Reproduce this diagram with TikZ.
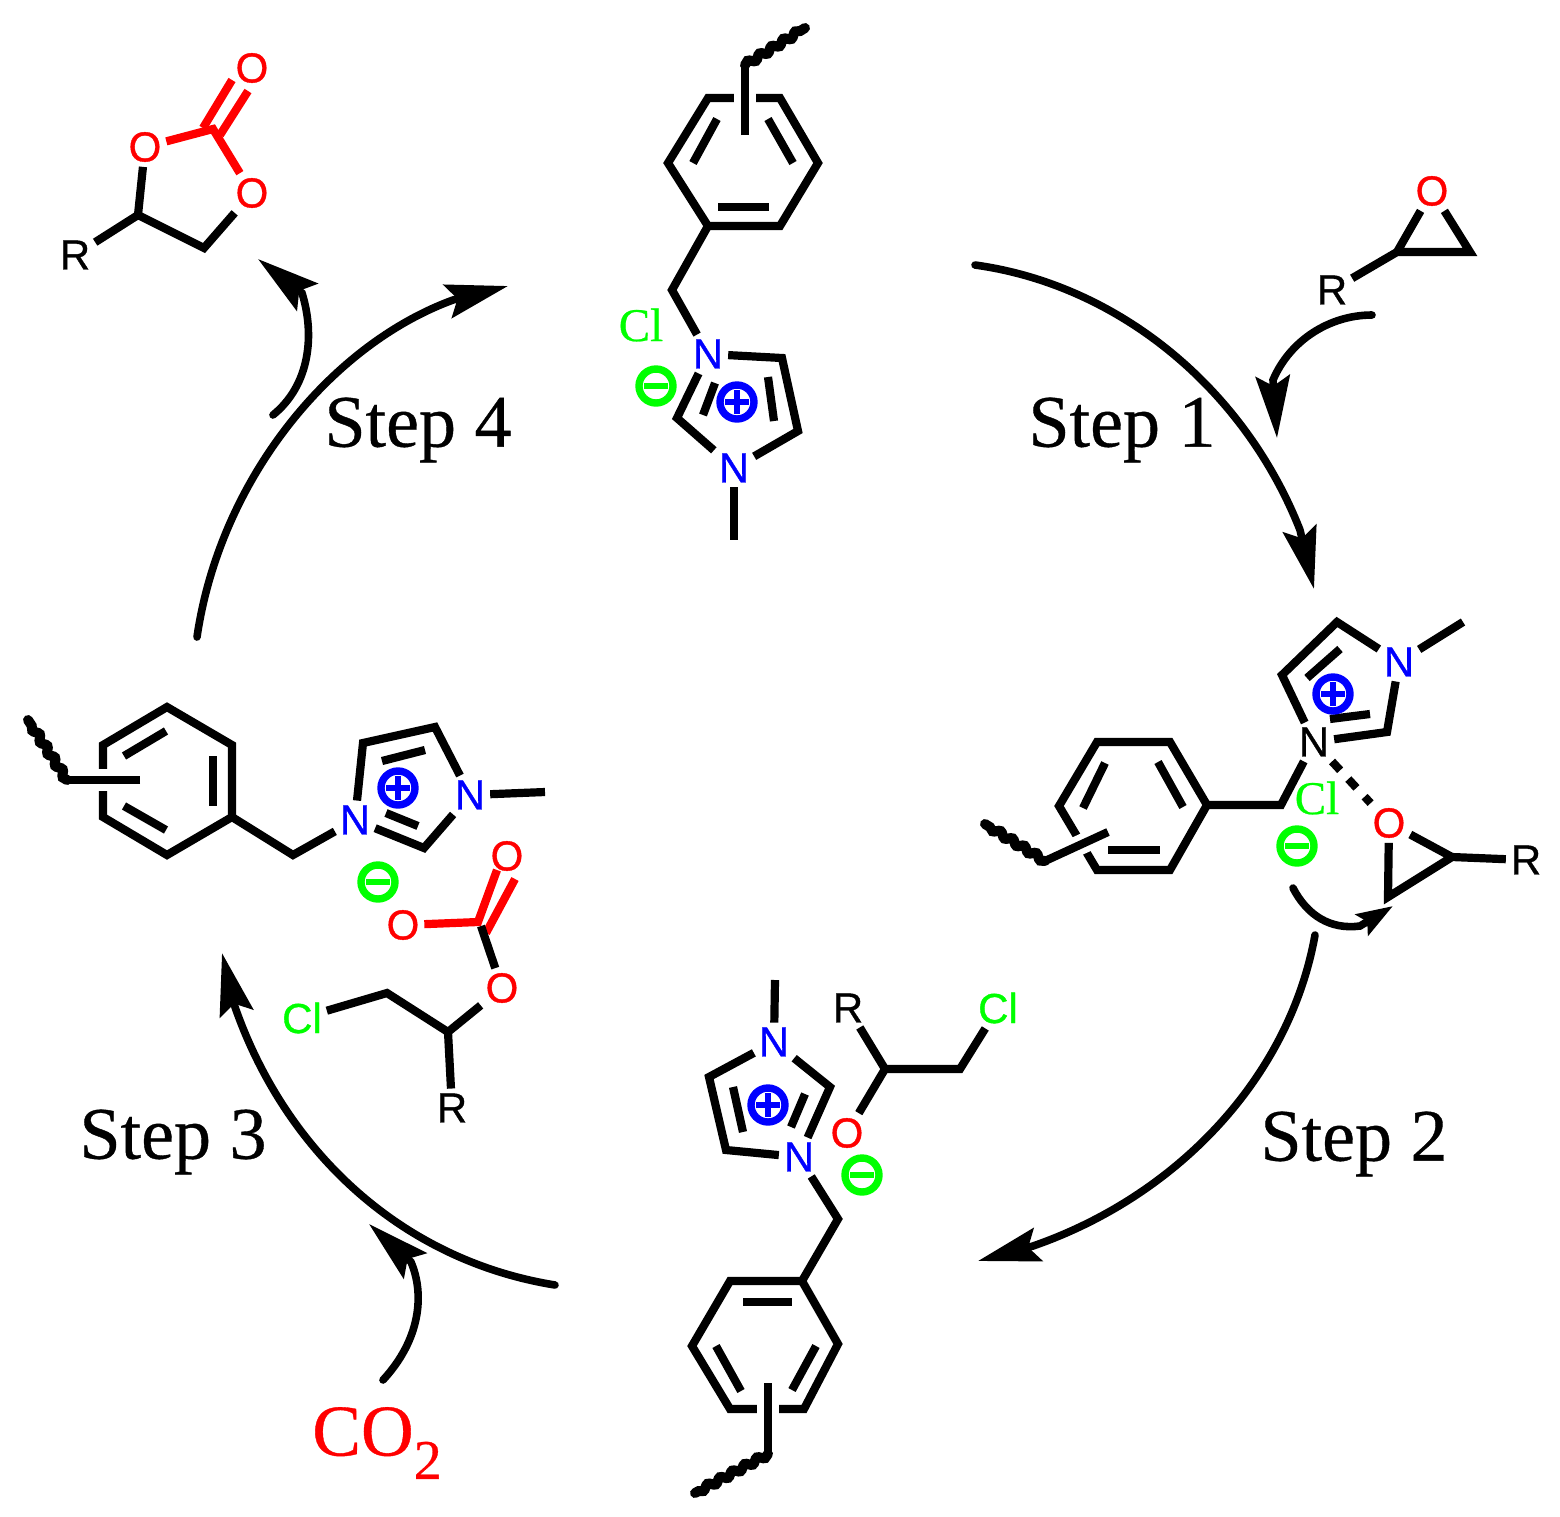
\documentclass[tikz,border=0pt]{standalone}
\usepackage{fontspec}
\setmainfont[RawFeature={embolden=0.5}]{Liberation Serif}
\newfontfamily\atomfont[RawFeature={embolden=0.9}]{Liberation Sans}
\usetikzlibrary{arrows.meta,decorations.pathmorphing}
\definecolor{rd}{RGB}{255,0,0}
\definecolor{gn}{RGB}{0,255,0}
\definecolor{bl}{RGB}{0,0,255}
\tikzset{
  bond/.style={line width=4.1pt,line cap=butt,line join=miter,draw=black},
  redbond/.style={bond,draw=rd},
  halo/.style={preaction={draw=white,line width=11pt}},
  wavy/.style={line width=5pt,decorate,decoration={snake,segment length=7pt,amplitude=1.1pt},line cap=round},
  atom/.style={inner sep=2.5pt,outer sep=0pt,font=\atomfont\fontsize{21}{21}\selectfont},
  NN/.style={atom,text=bl},
  OO/.style={atom,text=rd},
  RR/.style={atom,text=black},
  CLsans/.style={atom,text=gn},
  CLserif/.style={inner sep=2pt,text=gn,font=\fontsize{23.5}{23.5}\selectfont},
  steplabel/.style={inner sep=0pt,font=\fontsize{37}{37}\selectfont},
  chg/.style={circle,inner sep=0pt,minimum size=17pt,line width=3.7pt,draw=#1},
  chgbar/.style={line width=3pt,draw=#1},
  cycle/.style={line width=3.8pt,line cap=round,-{Stealth[length=31pt,width=17pt,inset=5pt]}},
  tiny/.style={line width=3.8pt,line cap=round,-{Stealth[length=18pt,width=12pt,inset=3pt]}},
}
\newcommand{\chgplus}[2]{%
  \node[chg=bl] (#1) at (#2) {};
  \draw[chgbar=bl] ([xshift=-6pt]#1.center) -- ([xshift=6pt]#1.center);
  \draw[chgbar=bl] ([yshift=-6pt]#1.center) -- ([yshift=6pt]#1.center);}
\newcommand{\chgminus}[2]{%
  \node[chg=gn] (#1) at (#2) {};
  \draw[chgbar=gn] ([xshift=-6pt]#1.center) -- ([xshift=6pt]#1.center);}
\begin{document}
\begin{tikzpicture}[x=0.5pt,y=-0.5pt]
\useasboundingbox (0,0) rectangle (1560,1517);

% ===== top molecule =====
\coordinate (a1) at (708,226);\coordinate (a2) at (668,163);\coordinate (a3) at (708,98);
\coordinate (a4) at (780,98);\coordinate (a5) at (818,163);\coordinate (a6) at (780,226);
\draw[bond] (a1)--(a2)--(a3)--(a4)--(a5)--(a6)--cycle;
\coordinate (as1) at (745,135);\coordinate (as2) at (745,65);\coordinate (aw) at (805,28);
\draw[bond,halo] (as1)--(as2);
\draw[wavy] (as2)--(aw);
\coordinate (ai1) at (693,163);\coordinate (ai2) at (717,119);\draw[bond] (ai1)--(ai2);
\coordinate (ai3) at (768,119);\coordinate (ai4) at (793,163);\draw[bond] (ai3)--(ai4);
\coordinate (ai5) at (718,207);\coordinate (ai6) at (769,207);\draw[bond] (ai5)--(ai6);
\node[NN] (an1) at (708,354) {N};
\node[NN] (an2) at (734,468) {N};
\coordinate (ach) at (672,290);
\coordinate (ac1) at (782,358);\coordinate (ac2) at (798,431);\coordinate (ac3) at (677,418);
\coordinate (ame) at (734,540);
\draw[bond] (a1)--(ach)--(an1);
\draw[bond] (an1)--(ac1)--(ac2)--(an2);
\draw[bond] (an2)--(ac3)--(an1);
\draw[bond] (an2)--(ame);
\coordinate (ad1) at (768,377);\coordinate (ad2) at (774,421);\draw[bond] (ad1)--(ad2);
\coordinate (ad3) at (715,383);\coordinate (ad4) at (703,415);\draw[bond] (ad3)--(ad4);
\chgplus{ap}{737,402}
\chgminus{am}{656,386}
\node[CLserif] (acl) at (641,325) {Cl};

% ===== epoxide top right =====
\node[OO] (eo) at (1432,191) {O};
\node[RR] (er) at (1332,290) {R};
\coordinate (ec1) at (1397,252);\coordinate (ec2) at (1470,252);
\draw[bond] (er)--(ec1)--(ec2)--(eo)--(ec1);

% ===== right molecule =====
\coordinate (b1) at (1207,805);\coordinate (b2) at (1170,742);\coordinate (b3) at (1097,742);
\coordinate (b4) at (1059,806);\coordinate (b5) at (1097,870);\coordinate (b6) at (1170,870);
\draw[bond] (b1)--(b2)--(b3)--(b4)--(b5)--(b6)--cycle;
\coordinate (bs1) at (1108,832);\coordinate (bs2) at (1045,861);\coordinate (bw) at (985,824);
\draw[bond,preaction={draw=white,line width=10pt}] (bs1)--(bs2);
\draw[wavy] (bs2)--(bw);
\coordinate (bi1) at (1105,763);\coordinate (bi2) at (1083,808);\draw[bond] (bi1)--(bi2);
\coordinate (bi3) at (1158,762);\coordinate (bi4) at (1183,807);\draw[bond] (bi3)--(bi4);
\coordinate (bi5) at (1108,850);\coordinate (bi6) at (1160,850);\draw[bond] (bi5)--(bi6);
\node[RR] (bn1) at (1314,742) {N};
\node[NN] (bn2) at (1399,662) {N};
\coordinate (bch) at (1281,805);
\coordinate (bc1) at (1282,675);\coordinate (bc2) at (1337,622);\coordinate (bc3) at (1387,732);
\coordinate (bme) at (1463,622);
\draw[bond] (b1)--(bch)--(bn1);
\draw[bond] (bn1)--(bc1)--(bc2)--(bn2);
\draw[bond] (bn2)--(bc3)--(bn1);
\draw[bond] (bn2)--(bme);
\coordinate (bd1) at (1307,678);\coordinate (bd2) at (1340,649);\draw[bond] (bd1)--(bd2);
\coordinate (bd3) at (1330,719);\coordinate (bd4) at (1370,714);\draw[bond] (bd3)--(bd4);
\chgplus{bp}{1333,694}
\chgminus{bm}{1297,846}
\node[CLserif] (bcl) at (1317,798) {Cl};
\node[OO] (bo) at (1389,823) {O};
\node[RR] (br) at (1526,860) {R};
\coordinate (be1) at (1452,857);\coordinate (be2) at (1388,897);
\draw[bond,dash pattern=on 6pt off 6pt] (bn1)--(bo);
\draw[bond] (br)--(be1)--(be2)--(bo)--(be1);

% ===== bottom molecule =====
\coordinate (c1) at (802,1281);\coordinate (c2) at (838,1344);\coordinate (c3) at (804,1409);
\coordinate (c4) at (730,1409);\coordinate (c5) at (692,1346);\coordinate (c6) at (730,1281);
\draw[bond] (c1)--(c2)--(c3)--(c4)--(c5)--(c6)--cycle;
\coordinate (cs1) at (768,1383);\coordinate (cs2) at (768,1454);\coordinate (cw) at (695,1493);
\draw[bond,halo] (cs1)--(cs2);
\draw[wavy] (cs2)--(cw);
\coordinate (ci1) at (743,1302);\coordinate (ci2) at (792,1302);\draw[bond] (ci1)--(ci2);
\coordinate (ci3) at (816,1346);\coordinate (ci4) at (792,1390);\draw[bond] (ci3)--(ci4);
\coordinate (ci5) at (716,1346);\coordinate (ci6) at (741,1391);\draw[bond] (ci5)--(ci6);
\node[NN] (cn1) at (774,1042) {N};
\node[NN] (cn2) at (799,1157) {N};
\coordinate (cch) at (838,1219);
\coordinate (cc1) at (709,1077);\coordinate (cc2) at (726,1150);\coordinate (cc3) at (830,1087);
\coordinate (cme) at (775,980);
\draw[bond] (c1)--(cch)--(cn2);
\draw[bond] (cn1)--(cc1)--(cc2)--(cn2);
\draw[bond] (cn2)--(cc3)--(cn1);
\draw[bond] (cn1)--(cme);
\coordinate (cd1) at (733,1087);\coordinate (cd2) at (743,1132);\draw[bond] (cd1)--(cd2);
\coordinate (cd3) at (805,1094);\coordinate (cd4) at (791,1127);\draw[bond] (cd3)--(cd4);
\chgplus{cp}{768,1105}
\chgminus{cm}{862,1175}
\node[OO] (co) at (847,1133) {O};
\node[RR] (cr) at (848,1008) {R};
\node[CLsans] (ccl) at (998,1008) {Cl};
\coordinate (ce1) at (885,1069);\coordinate (ce2) at (960,1069);
\draw[bond] (co)--(ce1)--(cr);
\draw[bond] (ce1)--(ce2)--(ccl);

% ===== left molecule =====
\coordinate (d1) at (232,817);\coordinate (d2) at (232,745);\coordinate (d3) at (167,707);
\coordinate (d4) at (103,745);\coordinate (d5) at (103,817);\coordinate (d6) at (167,855);
\draw[bond] (d1)--(d2)--(d3)--(d4)--(d5)--(d6)--cycle;
\coordinate (ds1) at (140,780);\coordinate (ds2) at (67,780);\coordinate (dw) at (28,720);
\draw[bond,halo] (ds1)--(ds2);
\draw[wavy] (ds2)--(dw);
\coordinate (di1) at (213,756);\coordinate (di2) at (213,806);\draw[bond] (di1)--(di2);
\coordinate (di3) at (124,756);\coordinate (di4) at (166,731);\draw[bond] (di3)--(di4);
\coordinate (di5) at (124,806);\coordinate (di6) at (166,830);\draw[bond] (di5)--(di6);
\node[NN] (dn1) at (355,820) {N};
\node[NN] (dn2) at (470,795) {N};
\coordinate (dch) at (293,855);
\coordinate (dc1) at (363,743);\coordinate (dc2) at (435,727);\coordinate (dc3) at (424,848);
\coordinate (dme) at (545,792);
\draw[bond] (d1)--(dch)--(dn1);
\draw[bond] (dn1)--(dc1)--(dc2)--(dn2);
\draw[bond] (dn2)--(dc3)--(dn1);
\draw[bond] (dn2)--(dme);
\coordinate (dd1) at (382,761);\coordinate (dd2) at (425,750);\draw[bond] (dd1)--(dd2);
\coordinate (dd3) at (386,813);\coordinate (dd4) at (418,826);\draw[bond] (dd3)--(dd4);
\chgplus{dp}{398,788}
\chgminus{dm}{378,882}
\node[OO] (do1) at (507,856) {O};
\node[OO] (do2) at (403,925) {O};
\node[OO] (do3) at (502,988) {O};
\node[RR] (dr) at (452,1108) {R};
\node[CLsans] (dcl) at (302,1018) {Cl};
\coordinate (dcc) at (478,922);
\coordinate (dca) at (497,870);\coordinate (dcb) at (515,879);\coordinate (dcd) at (486,933);
\coordinate (dce) at (481,926);
\coordinate (de1) at (448,1032);\coordinate (de2) at (387,993);
\draw[redbond] (do2)--(dcc)--(dca);
\draw[redbond] (dcb)--(dcd);
\draw[bond] (dce)--(do3);
\draw[bond] (do3)--(de1)--(de2)--(dcl);
\draw[bond] (de1)--(dr);

% ===== product =====
\node[OO] (po1) at (145,147) {O};
\node[OO] (po2) at (252,68) {O};
\node[OO] (po3) at (252,193) {O};
\node[RR] (pr) at (75,255) {R};
\coordinate (pc) at (213,129);
\coordinate (pe1) at (138,215);\coordinate (pe2) at (204,248);
\coordinate (pa) at (203,128);\coordinate (pb) at (232,80);
\coordinate (pd) at (220,135);\coordinate (pf) at (248,91);
\draw[redbond] (po1)--(pc)--(po3);
\draw[redbond] (pa)--(pb);
\draw[redbond] (pd)--(pf);
\draw[bond] (pr)--(pe1)--(pe2)--(po3);
\draw[bond] (pe1)--(po1);

% ===== step labels =====
\node[steplabel] (s1) at (1122,430) {Step 1};
\node[steplabel] (s2) at (1354,1144) {Step 2};
\node[steplabel] (s3) at (173,1142) {Step 3};
\node[steplabel] (s4) at (418,430) {Step 4};
\node[inner sep=0pt,text=rd,font=\fontsize{36.5}{36.5}\selectfont] (co2) at (377,1443) {CO\raisebox{-0.32em}{\fontsize{28}{28}\selectfont 2}};

% ===== cycle arrows =====
\coordinate (m1s) at (975,265);\coordinate (m1n) at (1300,530);\coordinate (m1e) at (1314,589);
\draw[cycle] (m1s) .. controls (1120,285) and (1245,390) .. (m1n) -- (m1e);
\coordinate (m2s) at (1315,935);\coordinate (m2n) at (1033,1246);\coordinate (m2e) at (978,1261);
\draw[cycle] (m2s) .. controls (1290,1075) and (1180,1195) .. (m2n) -- (m2e);
\coordinate (m3s) at (555,1285);\coordinate (m3n) at (235,1007);\coordinate (m3e) at (222,953);
\draw[cycle] (m3s) .. controls (400,1260) and (285,1150) .. (m3n) -- (m3e);
\coordinate (m4s) at (197,637);\coordinate (m4n) at (453,300);\coordinate (m4e) at (508,286);
\draw[cycle] (m4s) .. controls (220,480) and (330,345) .. (m4n) -- (m4e);

% ===== side arrows =====
\coordinate (x1s) at (1372,315);\coordinate (x1n) at (1273,380);\coordinate (x1e) at (1277,438);
\draw[cycle] (x1s) .. controls (1330,315) and (1290,340) .. (x1n) -- (x1e);
\coordinate (x2s) at (383,1380);\coordinate (x2n) at (411,1262);\coordinate (x2e) at (369,1224);
\draw[cycle] (x2s) .. controls (420,1340) and (425,1295) .. (x2n) -- (x2e);
\coordinate (x3s) at (273,415);\coordinate (x3n) at (302,293);\coordinate (x3e) at (258,259);
\draw[cycle] (x3s) .. controls (310,385) and (315,335) .. (x3n) -- (x3e);
\coordinate (x4s) at (1293,888);\coordinate (x4n) at (1360,926);\coordinate (x4e) at (1393,906);
\draw[tiny] (x4s) .. controls (1307,915) and (1330,930) .. (x4n) -- (x4e);
\end{tikzpicture}
\end{document}
